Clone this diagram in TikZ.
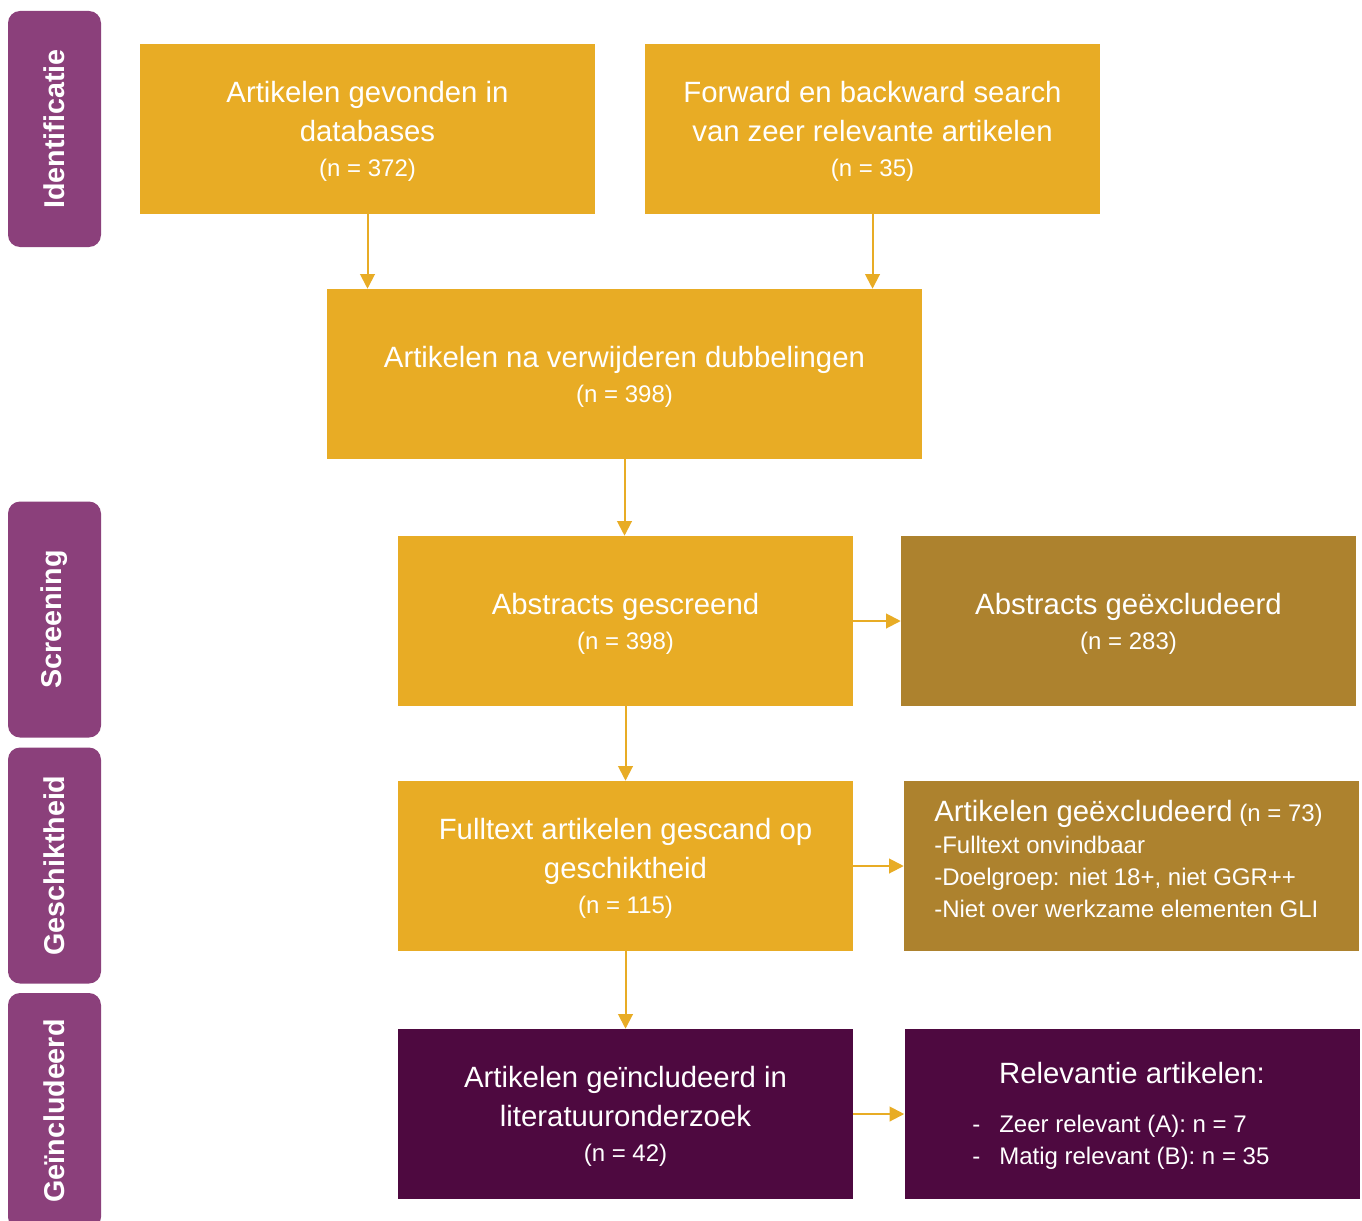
\documentclass[tikz,border=0pt]{standalone}
\usepackage{fontspec}
\setmainfont{Liberation Sans}
\usetikzlibrary{arrows.meta}
\definecolor{gold}{HTML}{E8AC25}
\definecolor{dgold}{HTML}{AD822E}
\definecolor{dpurp}{HTML}{4E0940}
\definecolor{spurp}{HTML}{8B407B}
\newcommand\nsm{\fontsize{18}{29.25}\selectfont}
\newcommand\tstrut{\rule{0pt}{20pt}}
\tikzset{
  box/.style={rectangle, inner sep=0pt, text=white, align=center,
    minimum width=341.25pt, minimum height=127.5pt,
    font=\fontsize{22}{29.25}\selectfont},
  gbox/.style={box, fill=gold},
  dgbox/.style={box, fill=dgold},
  dpbox/.style={box, fill=dpurp},
  side/.style={rectangle, rounded corners=9pt, fill=spurp, text=white,
    rotate=90, minimum width=177pt, minimum height=69.75pt, inner sep=0pt,
    font=\fontsize{21.5}{26}\selectfont\bfseries},
  arr/.style={draw=gold, line width=1.5pt, -{Triangle[length=11pt,width=11pt]}},
  txt/.style={text=white, inner sep=0pt}
}
\begin{document}
\begin{tikzpicture}[x=0.75pt,y=-0.75pt]
\useasboundingbox (0,0) rectangle (1362,1220);
% side labels
\node[side] (s1) at (54.5,129) {Identificatie};
\node[side] (s2) at (54.5,619.5) {Screening};
\node[side] (s3) at (54.5,865.5) {Geschiktheid};
\node[side] (s4) at (54.5,1111) {Geïncludeerd};
% boxes
\node[gbox] (a1) at (367.5,129) {\tstrut Artikelen gevonden in\\databases\\[-3pt]{\nsm (n = 372)}};
\node[gbox] (a2) at (872.5,129) {\tstrut Forward en backward search\\van zeer relevante artikelen\\[-3pt]{\nsm (n = 35)}};
\node[gbox, minimum width=446.25pt] (b) at (624.5,374) {\tstrut Artikelen na verwijderen dubbelingen\\[-3pt]{\nsm (n = 398)}};
\node[gbox] (c) at (625.5,621) {\tstrut Abstracts gescreend\\[-3pt]{\nsm (n = 398)}};
\node[dgbox] (c2) at (1128.5,621) {\tstrut Abstracts geëxcludeerd\\[-3pt]{\nsm (n = 283)}};
\node[gbox] (d) at (625.5,866) {\tstrut Fulltext artikelen gescand op\\geschiktheid\\[-3pt]{\nsm (n = 115)}};
\node[dgbox] (d2) at (1131.5,866) {};
\node[txt, anchor=west, align=left, font=\fontsize{18}{24}\selectfont] (d2t) at (934,859)
  {{\fontsize{22}{24}\selectfont Artikelen geëxcludeerd} (n = 73)\\[0pt]
   -Fulltext onvindbaar\\
   -Doelgroep: niet 18+, niet GGR++\\
   -Niet over werkzame elementen GLI};
\node[dpbox] (e) at (625.5,1114) {\tstrut Artikelen geïncludeerd in\\literatuuronderzoek\\[-3pt]{\nsm (n = 42)}};
\node[dpbox] (e2) at (1132,1114) {};
\node[txt, font=\fontsize{22}{29.25}\selectfont] (e2t) at (1132,1073) {Relevantie artikelen:};
\node[txt, anchor=west, align=left, font=\fontsize{18}{24}\selectfont] (e2l) at (972,1142)
  {\makebox[20.25pt][l]{-}Zeer relevant (A): n = 7\\
   \makebox[20.25pt][l]{-}Matig relevant (B): n = 35};
% arrows
\draw[arr] (a1) -- (a1 |- b.north);
\draw[arr] (a2) -- (a2 |- b.north);
\draw[arr] (b) -- (b |- c.north);
\draw[arr] (c) -- (c |- d.north);
\draw[arr] (d) -- (d |- e.north);
\draw[arr] (c) -- (c -| c2.west);
\draw[arr] (d) -- (d -| d2.west);
\draw[arr] (e) -- (e -| e2.west);
\end{tikzpicture}
\end{document}
